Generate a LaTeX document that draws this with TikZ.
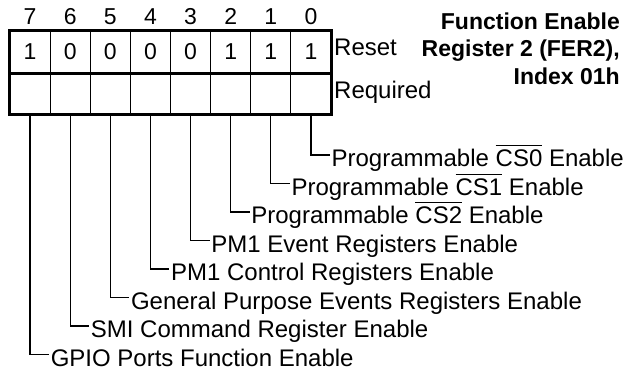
\documentclass[tikz,border=0pt]{standalone}
\usepackage{fontspec}
\setmainfont{Liberation Sans}
\newcommand\ovbar[1]{\vbox{\hrule height 1pt\kern 3.5pt\hbox{#1}}}
\begin{document}
\begin{tikzpicture}[x=1pt,y=-1pt,
  rstcell/.style={draw, line width=1.2pt, minimum width=40.125pt, minimum height=42pt, inner sep=0pt, font=\fontsize{23}{27}\selectfont},
  reqcell/.style={draw, line width=1.2pt, minimum width=40.125pt, minimum height=41pt, inner sep=0pt},
  bitnum/.style={inner sep=0pt, font=\fontsize{23}{27}\selectfont},
  frame/.style={line width=3.3pt},
  conn/.style={line width=1.3pt},
  lab/.style={inner xsep=1.5pt, inner ysep=0pt, text height=23pt, text depth=0pt, font=\fontsize{24}{28}\selectfont},
  side/.style={inner sep=0pt, font=\fontsize{24}{28}\selectfont},
  title/.style={inner sep=0pt, align=right, font=\bfseries\fontsize{23}{27.5}\selectfont}
]
\useasboundingbox (0,0) rectangle (637,370);
\foreach \b/\v in {7/1,6/0,5/0,4/0,3/0,2/1,1/1,0/1} {
  \node[rstcell] (rst\b) at ({30.06+40.125*(7-\b)},52) {\v};
  \node[reqcell] (req\b) at ({30.06+40.125*(7-\b)},93.5) {};
  \node[bitnum, anchor=base] (num\b) at ({30.06+40.125*(7-\b)},24) {\b};
}
\draw[frame] (rst7.north west) rectangle (req0.south east);
\draw[frame] (rst7.south west) -- (rst0.south east);
\node[side, anchor=base west] (reset) at (334,55) {Reset};
\node[side, anchor=base west] (required) at (334,98) {Required};
\node[title, anchor=north east] (titlenode) at (620,12.5) {Function Enable\\Register 2 (FER2),\\Index 01h};
\foreach \b/\t in {0/{Programmable \ovbar{CS0} Enable},
                   1/{Programmable \ovbar{CS1} Enable},
                   2/{Programmable \ovbar{CS2} Enable},
                   3/{PM1 Event Registers Enable},
                   4/{PM1 Control Registers Enable},
                   5/{General Purpose Events Registers Enable},
                   6/{SMI Command Register Enable},
                   7/{GPIO Ports Function Enable}} {
  \node[lab, anchor=west] (lab\b) at ({30.06+40.125*(7-\b)+19},{155+28.5*\b}) {\t};
  \draw[conn] (req\b.south) |- (lab\b.west);
}
\end{tikzpicture}
\end{document}
